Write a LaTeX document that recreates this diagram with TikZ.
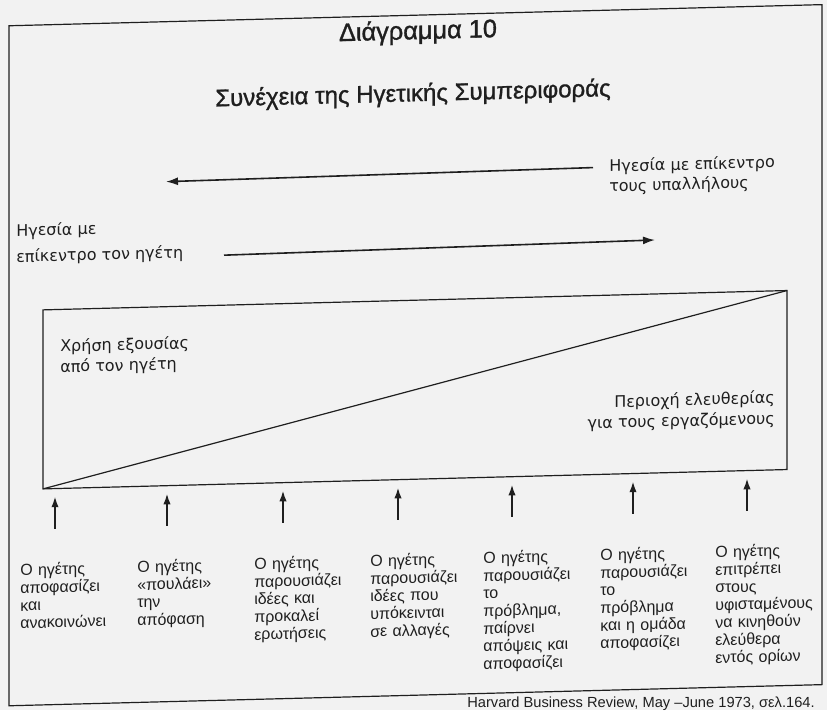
\documentclass[tikz,border=0pt]{standalone}
\usepackage{fontspec}
\setmainfont{Liberation Sans}
\newfontfamily\roundfont{DejaVu Sans}
\usetikzlibrary{positioning,arrows.meta}

\definecolor{paper}{gray}{0.95}
\definecolor{ink}{gray}{0.12}

\begin{document}
\begin{tikzpicture}[
    x=0.75pt, y=-0.75pt,
    frameline/.style={draw=ink, line width=0.9pt},
    longarrow/.style={draw=ink, line width=1.2pt, -{Latex[length=9pt, width=6pt]}},
    uparrow/.style={draw=ink, line width=1.2pt, -{Latex[length=8pt, width=5.5pt]}},
    heading/.style={text=ink, font=\fontsize{18}{22}\selectfont\addfontfeature{FakeBold=1.2}, anchor=base, inner sep=0pt},
    roundlabel/.style={text=ink, font=\roundfont\fontsize{12}{15}\selectfont, align=left, inner sep=0pt},
    arealabel/.style={roundlabel, font=\roundfont\fontsize{12}{15.5}\selectfont},
    steplabel/.style={text=ink, font=\fontsize{12}{13.2}\selectfont, align=left, anchor=north west, inner sep=0pt, text width=88pt}
]

\path[fill=paper, use as bounding box] (0,0) rectangle (827,710);
\clip (0,0) rectangle (827,710);

\begin{scope}[yslant=0.026, transform shape]

% Frame
\draw[frameline] (9,26) rectangle (822,706);

% Titles
\node[heading, font=\fontsize{19}{22}\selectfont\addfontfeature{FakeBold=1.2}] (title) at (418,50) {Διάγραμμα 10};
\node[heading] (subtitle) at (413,112) {Συνέχεια της Ηγετικής Συμπεριφοράς};

% Upper arrow: towards the leader
\node[roundlabel, anchor=west] (staffled) at (609,193) {Ηγεσία με επίκεντρο\\τους υπαλλήλους};
\coordinate (staffstart) at (593,183);
\coordinate (staffend) at (166,186);
\draw[longarrow] (staffstart) -- (staffend);

% Lower arrow: towards the staff
\node[roundlabel, anchor=west, font=\roundfont\fontsize{12}{19.5}\selectfont] (leaderled) at (16,245) {Ηγεσία με\\επίκεντρο τον ηγέτη};
\coordinate (leaderstart) at (224,261);
\coordinate (leaderend) at (655,257);
\draw[longarrow] (leaderstart) -- (leaderend);

% Box split by the diagonal
\coordinate (boxsw) at (43,490);
\coordinate (boxne) at (787,311);
\draw[frameline] (boxsw) rectangle (boxne);
\draw[frameline] (boxsw) -- (boxne);
\node[arealabel, anchor=west] (power) at (60,359) {Χρήση εξουσίας\\από τον ηγέτη};
\node[arealabel, anchor=east, align=right] (freedom) at (775,429) {Περιοχή ελευθερίας\\για τους εργαζόμενους};

% Steps along the continuum
\coordinate (tip1) at (55,498);  \coordinate (tail1) at (55,530);
\coordinate (tip2) at (167,498); \coordinate (tail2) at (167,530);
\coordinate (tip3) at (283,498); \coordinate (tail3) at (283,530);
\coordinate (tip4) at (398,498); \coordinate (tail4) at (398,530);
\coordinate (tip5) at (512,498); \coordinate (tail5) at (512,530);
\coordinate (tip6) at (633,498); \coordinate (tail6) at (633,530);
\coordinate (tip7) at (747,498); \coordinate (tail7) at (747,530);

\draw[uparrow] (tail1) -- (tip1);
\draw[uparrow] (tail2) -- (tip2);
\draw[uparrow] (tail3) -- (tip3);
\draw[uparrow] (tail4) -- (tip4);
\draw[uparrow] (tail5) -- (tip5);
\draw[uparrow] (tail6) -- (tip6);
\draw[uparrow] (tail7) -- (tip7);

\node[steplabel] (step1) at (20,564) {Ο ηγέτης\\αποφασίζει\\και\\ανακοινώνει};
\node[steplabel] (step2) at (137,564) {Ο ηγέτης\\«πουλάει»\\την\\απόφαση};
\node[steplabel] (step3) at (254,564) {Ο ηγέτης\\παρουσιάζει\\ιδέες και\\προκαλεί\\ερωτήσεις};
\node[steplabel] (step4) at (370,564) {Ο ηγέτης\\παρουσιάζει\\ιδέες που\\υπόκεινται\\σε αλλαγές};
\node[steplabel] (step5) at (483,564) {Ο ηγέτης\\παρουσιάζει\\το\\πρόβλημα,\\παίρνει\\απόψεις και\\αποφασίζει};
\node[steplabel] (step6) at (600,564) {Ο ηγέτης\\παρουσιάζει\\το\\πρόβλημα\\και η ομάδα\\αποφασίζει};
\node[steplabel] (step7) at (715,564) {Ο ηγέτης\\επιτρέπει\\στους\\υφισταμένους\\να κινηθούν\\ελεύθερα\\εντός ορίων};

\end{scope}

% Source line under the frame
\node[anchor=base east, inner sep=0pt, text=ink, font=\fontsize{11}{13}\selectfont] (source) at (815,707) {Harvard Business Review, May –June 1973, σελ.164.};

\end{tikzpicture}
\end{document}
